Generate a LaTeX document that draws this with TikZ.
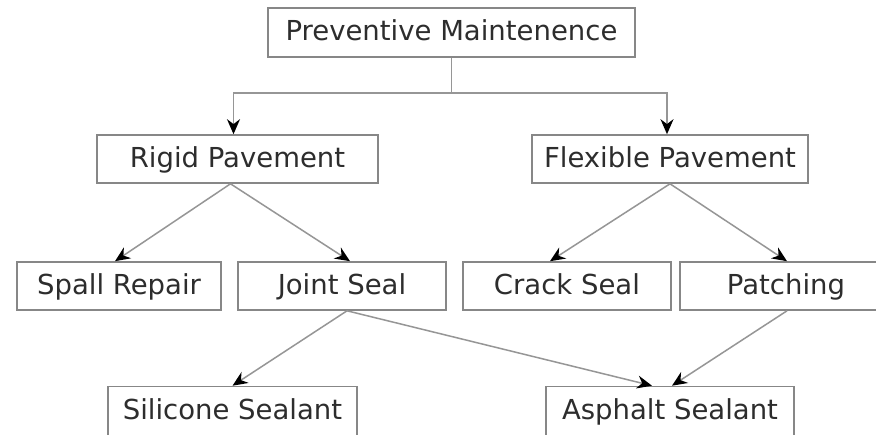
\documentclass[tikz,border=0pt]{standalone}
\usepackage{fontspec}
\setmainfont{DejaVu Sans}
\usetikzlibrary{arrows.meta,calc}
\definecolor{boxgray}{RGB}{135,135,135}
\definecolor{linegray}{RGB}{150,150,150}
\definecolor{textgray}{RGB}{45,45,45}
\begin{document}
\begin{tikzpicture}[x=1pt,y=-1pt,
  box/.style={draw=boxgray,line width=1.6pt,minimum height=48pt,inner sep=0pt,
    text height=19pt,text depth=3pt,
    font=\fontsize{27.5}{30}\selectfont,text=textgray},
  conn/.style={draw=linegray,line width=1.5pt,
    -{Stealth[length=15pt,width=13pt,color=black]}}]
\useasboundingbox (0,0) rectangle (876,434);
\clip (0,0) rectangle (876,434);
\fill[white] (0,0) rectangle (876,434);
\node[box,minimum width=367pt,minimum height=49pt] (pm) at (451.5,32.5) {Preventive Maintenence};
\node[box,minimum width=281pt] (rp) at (237.5,159) {Rigid Pavement};
\node[box,minimum width=276pt] (fp) at (670,159) {Flexible Pavement};
\node[box,minimum width=204pt] (sr) at (119,286) {Spall Repair};
\node[box,minimum width=208pt] (js) at (342,286) {Joint Seal};
\node[box,minimum width=208pt] (cs) at (567,286) {Crack Seal};
\node[box,minimum width=212pt] (pa) at (786,286) {Patching};
\node[box,minimum width=249pt,minimum height=49pt] (ss) at (232.5,411) {Silicone Sealant};
\node[box,minimum width=248pt,minimum height=49pt] (as) at (670,411) {Asphalt Sealant};
\coordinate (split) at ($(pm.south)+(0,35)$);
\draw[draw=linegray,line width=1.5pt] (pm.south) -- (split);
\draw[conn] (split) -| ($(rp.north)+(-4,0)$);
\draw[conn] (split) -| ($(fp.north)+(-3,0)$);
\draw[conn] ($(rp.south)+(-7,0)$) -- ($(sr.north)+(-4,0)$);
\draw[conn] ($(rp.south)+(-7,0)$) -- ($(js.north)+(8,0)$);
\draw[conn] (fp.south) -- ($(cs.north)+(-17,0)$);
\draw[conn] (fp.south) -- ($(pa.north)+(1,0)$);
\draw[conn] ($(js.south)+(5,0)$) -- (ss.north);
\draw[conn] ($(js.south)+(5,0)$) -- ($(as.north)+(-18,0)$);
\draw[conn] ($(pa.south)+(1,0)$) -- ($(as.north)+(2,0)$);
\end{tikzpicture}
\end{document}
